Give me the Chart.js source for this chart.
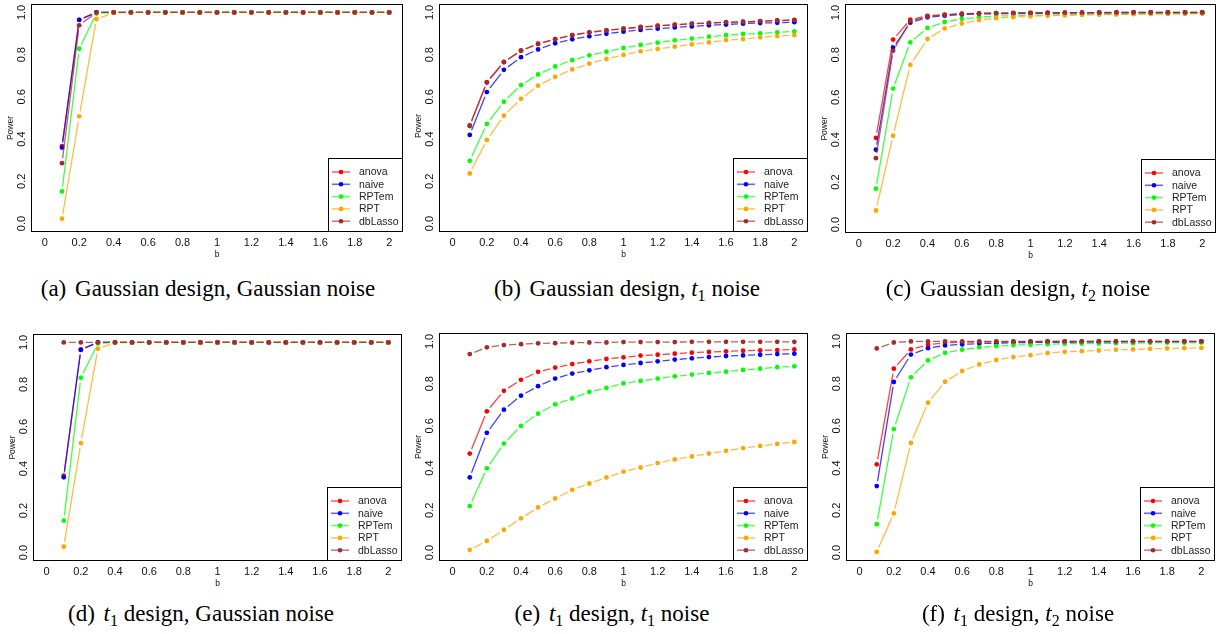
<!DOCTYPE html>
<html>
<head>
<meta charset="utf-8">
<script src="https://cdn.jsdelivr.net/npm/chart.js@4/dist/chart.umd.min.js"></script>
<style>
  body { margin: 0; background: #fff; width: 1225px; height: 634px; position: relative; overflow: hidden; }
  canvas.panel { position: absolute; }
  .cap { position: absolute; width: 440px; text-align: center; font-family: "Liberation Serif", "Times New Roman", serif;
         font-size: 23px; line-height: 26px; color: #000; white-space: nowrap; }
  .cap .lab { margin-right: 3px; }
  .cap sub { font-size: 70%; vertical-align: -0.3em; line-height: 0; }
</style>
</head>
<body>
<script>
/* Power curves for six design / noise settings */

const bValues = [0.1, 0.2, 0.3, 0.4, 0.5, 0.6, 0.7, 0.8, 0.9, 1.0, 1.1, 1.2, 1.3, 1.4, 1.5, 1.6, 1.7, 1.8, 1.9, 2.0];
const xTicks = [0, 0.2, 0.4, 0.6, 0.8, 1, 1.2, 1.4, 1.6, 1.8, 2];
const yTicks = [0, 0.2, 0.4, 0.6, 0.8, 1];
const seriesNames = ["anova", "naive", "RPTem", "RPT", "dbLasso"];
const seriesColors = ["#ff0000", "#0000ff", "#00ff00", "#ffa500", "#a52a2a"];

// (a) Gaussian design, Gaussian noise
const aAnova   = [0.367, 0.965, 1, 1, 1, 1, 1, 1, 1, 1, 1, 1, 1, 1, 1, 1, 1, 1, 1, 1];
const aNaive   = [0.360, 0.965, 1, 1, 1, 1, 1, 1, 1, 1, 1, 1, 1, 1, 1, 1, 1, 1, 1, 1];
const aRPTem   = [0.152, 0.828, 0.995, 1, 1, 1, 1, 1, 1, 1, 1, 1, 1, 1, 1, 1, 1, 1, 1, 1];
const aRPT     = [0.023, 0.508, 0.969, 0.998, 1, 1, 1, 1, 1, 1, 1, 1, 1, 1, 1, 1, 1, 1, 1, 1];
const aDbLasso = [0.286, 0.939, 1, 1, 1, 1, 1, 1, 1, 1, 1, 1, 1, 1, 1, 1, 1, 1, 1, 1];

// (b) Gaussian design, t1 noise
const bAnova   = [0.465, 0.670, 0.766, 0.820, 0.852, 0.874, 0.893, 0.906, 0.915, 0.923, 0.930, 0.936, 0.941, 0.946, 0.949, 0.953, 0.955, 0.958, 0.961, 0.963];
const bNaive   = [0.420, 0.623, 0.728, 0.788, 0.825, 0.854, 0.873, 0.887, 0.899, 0.909, 0.917, 0.923, 0.929, 0.934, 0.939, 0.943, 0.947, 0.950, 0.951, 0.954];
const bRPTem   = [0.297, 0.472, 0.577, 0.656, 0.706, 0.744, 0.774, 0.797, 0.814, 0.832, 0.846, 0.857, 0.868, 0.876, 0.885, 0.892, 0.898, 0.901, 0.906, 0.910];
const bRPT     = [0.237, 0.396, 0.511, 0.591, 0.653, 0.695, 0.730, 0.758, 0.780, 0.799, 0.816, 0.827, 0.838, 0.849, 0.858, 0.869, 0.874, 0.882, 0.888, 0.893];
const bDbLasso = [0.462, 0.668, 0.764, 0.818, 0.851, 0.873, 0.892, 0.906, 0.915, 0.923, 0.931, 0.937, 0.942, 0.947, 0.950, 0.954, 0.956, 0.959, 0.962, 0.965];

// (c) Gaussian design, t2 noise
const cAnova   = [0.409, 0.872, 0.966, 0.984, 0.990, 0.994, 0.996, 0.997, 0.998, 0.998, 0.999, 0.999, 0.999, 1, 1, 1, 1, 1, 1, 1];
const cNaive   = [0.353, 0.834, 0.952, 0.977, 0.985, 0.990, 0.993, 0.994, 0.995, 0.996, 0.997, 0.997, 0.998, 0.998, 0.998, 0.999, 0.999, 0.999, 0.999, 0.999];
const cRPTem   = [0.169, 0.641, 0.859, 0.927, 0.955, 0.970, 0.977, 0.983, 0.985, 0.987, 0.988, 0.989, 0.990, 0.991, 0.992, 0.993, 0.993, 0.994, 0.994, 0.995];
const cRPT     = [0.066, 0.419, 0.753, 0.875, 0.925, 0.948, 0.964, 0.973, 0.978, 0.982, 0.985, 0.987, 0.989, 0.990, 0.991, 0.992, 0.993, 0.994, 0.995, 0.996];
const cDbLasso = [0.313, 0.820, 0.959, 0.981, 0.988, 0.993, 0.995, 0.997, 0.997, 0.998, 0.998, 0.999, 0.999, 0.999, 1, 1, 1, 1, 1, 1];

// (d) t1 design, Gaussian noise
const dAnova   = [0.366, 0.967, 1, 1, 1, 1, 1, 1, 1, 1, 1, 1, 1, 1, 1, 1, 1, 1, 1, 1];
const dNaive   = [0.358, 0.964, 1, 1, 1, 1, 1, 1, 1, 1, 1, 1, 1, 1, 1, 1, 1, 1, 1, 1];
const dRPTem   = [0.152, 0.832, 0.995, 1, 1, 1, 1, 1, 1, 1, 1, 1, 1, 1, 1, 1, 1, 1, 1, 1];
const dRPT     = [0.028, 0.521, 0.970, 0.998, 1, 1, 1, 1, 1, 1, 1, 1, 1, 1, 1, 1, 1, 1, 1, 1];
const dDbLasso = [1, 1, 1, 1, 1, 1, 1, 1, 1, 1, 1, 1, 1, 1, 1, 1, 1, 1, 1, 1];

// (e) t1 design, t1 noise
const eAnova   = [0.469, 0.669, 0.766, 0.818, 0.856, 0.876, 0.893, 0.906, 0.917, 0.925, 0.933, 0.937, 0.942, 0.947, 0.950, 0.953, 0.956, 0.958, 0.959, 0.962];
const eNaive   = [0.356, 0.567, 0.677, 0.743, 0.788, 0.824, 0.848, 0.863, 0.878, 0.889, 0.898, 0.906, 0.914, 0.920, 0.926, 0.931, 0.934, 0.937, 0.940, 0.942];
const eRPTem   = [0.220, 0.399, 0.516, 0.600, 0.658, 0.702, 0.730, 0.761, 0.780, 0.801, 0.813, 0.824, 0.835, 0.843, 0.851, 0.857, 0.865, 0.871, 0.878, 0.882];
const eRPT     = [0.013, 0.055, 0.108, 0.162, 0.214, 0.256, 0.297, 0.327, 0.356, 0.383, 0.403, 0.424, 0.441, 0.455, 0.469, 0.482, 0.495, 0.505, 0.515, 0.524];
const eDbLasso = [0.940, 0.972, 0.983, 0.987, 0.991, 0.992, 0.994, 0.995, 0.995, 0.997, 0.997, 0.997, 0.997, 0.998, 0.998, 0.998, 0.998, 0.998, 0.998, 0.998];

// (f) t1 design, t2 noise
const fAnova   = [0.418, 0.871, 0.962, 0.984, 0.994, 0.996, 0.998, 0.998, 0.999, 0.999, 1, 1, 1, 1, 1, 1, 1, 1, 1, 1];
const fNaive   = [0.315, 0.808, 0.938, 0.968, 0.981, 0.986, 0.990, 0.992, 0.994, 0.995, 0.996, 0.996, 0.997, 0.997, 0.997, 0.998, 0.998, 0.998, 0.998, 0.998];
const fRPTem   = [0.134, 0.585, 0.830, 0.910, 0.946, 0.961, 0.972, 0.978, 0.983, 0.984, 0.987, 0.989, 0.990, 0.990, 0.992, 0.992, 0.994, 0.994, 0.994, 0.995];
const fRPT     = [0.003, 0.186, 0.519, 0.710, 0.809, 0.860, 0.891, 0.912, 0.926, 0.935, 0.945, 0.951, 0.954, 0.957, 0.961, 0.962, 0.965, 0.967, 0.968, 0.970];
const fDbLasso = [0.967, 0.995, 1, 1, 1, 1, 1, 1, 1, 1, 1, 1, 1, 1, 1, 1, 1, 1, 1, 1];

// page layout: plot frame box per panel, caption centre
const panels = [
  { label: "(a)", caption: "Gaussian design, Gaussian noise", series: [aAnova, aNaive, aRPTem, aRPT, aDbLasso],
    frame: { l: 31, t: 3, r: 403, b: 232 }, capX: 208, capY: 289, powerDy: 10 },
  { label: "(b)", caption: "Gaussian design, <i>t</i><sub>1</sub> noise", series: [bAnova, bNaive, bRPTem, bRPT, bDbLasso],
    frame: { l: 439, t: 3, r: 808, b: 232 }, capX: 627, capY: 289, powerDy: 8 },
  { label: "(c)", caption: "Gaussian design, <i>t</i><sub>2</sub> noise", series: [cAnova, cNaive, cRPTem, cRPT, cDbLasso],
    frame: { l: 845, t: 3, r: 1216, b: 233 }, capX: 1018, capY: 289, powerDy: 10 },
  { label: "(d)", caption: "<i>t</i><sub>1</sub> design, Gaussian noise", series: [dAnova, dNaive, dRPTem, dRPT, dDbLasso],
    frame: { l: 33, t: 334, r: 402, b: 561 }, capX: 201, capY: 614, powerDy: 0 },
  { label: "(e)", caption: "<i>t</i><sub>1</sub> design, <i>t</i><sub>1</sub> noise", series: [eAnova, eNaive, eRPTem, eRPT, eDbLasso],
    frame: { l: 439, t: 333, r: 808, b: 561 }, capX: 612, capY: 614, powerDy: 0 },
  { label: "(f)", caption: "<i>t</i><sub>1</sub> design, <i>t</i><sub>2</sub> noise", series: [fAnova, fNaive, fRPTem, fRPT, fDbLasso],
    frame: { l: 846, t: 333, r: 1215, b: 561 }, capX: 1018, capY: 614, powerDy: 0 },
];

const SANS = '"Liberation Sans", Arial, sans-serif';
const GAP = 5;          // gap around points, like R's type = "b"
const LINE_ALPHA = 0.75;

function rgba(hex, a) {
  const n = parseInt(hex.slice(1), 16);
  return `rgba(${(n >> 16) & 255},${(n >> 8) & 255},${n & 255},${a})`;
}

// each segment stops short of both points
function gapDash(ctx) {
  const L = Math.hypot(ctx.p1.x - ctx.p0.x, ctx.p1.y - ctx.p0.y);
  if (L <= 2 * GAP) return [0, +(L + 0.01).toFixed(2)];
  return [0, GAP, +(L - 2 * GAP).toFixed(2), GAP];
}

const decorPlugin = {
  id: "decor",
  afterDraw(chart) {
    const { ctx, chartArea: a, scales } = chart;
    const opts = chart.options.plugins.decor;
    const ys = scales.y;
    ctx.save();

    // frame
    ctx.strokeStyle = "#000";
    ctx.lineWidth = 1;
    ctx.strokeRect(a.left + 0.5, a.top + 0.5, a.right - a.left - 1, a.bottom - a.top - 1);

    // rotated y tick labels
    ctx.fillStyle = "#111";
    ctx.font = `11px ${SANS}`;
    ctx.textAlign = "center";
    ctx.textBaseline = "middle";
    yTicks.forEach((v) => {
      ctx.save();
      ctx.translate(a.left - 9.5, ys.getPixelForValue(v));
      ctx.rotate(-Math.PI / 2);
      ctx.fillText(v.toFixed(1), 0, 0);
      ctx.restore();
    });

    // axis titles
    ctx.font = `8.5px ${SANS}`;
    ctx.save();
    ctx.translate(a.left - 20, (a.top + a.bottom) / 2 + opts.powerDy);
    ctx.rotate(-Math.PI / 2);
    ctx.fillText("Power", 0, 0);
    ctx.restore();
    ctx.fillText("b", (a.left + a.right) / 2, a.bottom + 23);

    // legend, bottom right
    const bw = 75, bh = 74;
    ctx.fillStyle = "#fff";
    ctx.fillRect(a.right - bw, a.bottom - bh, bw, bh);
    ctx.strokeStyle = "#000";
    ctx.strokeRect(a.right - bw + 0.5, a.bottom - bh + 0.5, bw - 1, bh - 1);
    ctx.font = `10.5px ${SANS}`;
    ctx.textAlign = "left";
    seriesNames.forEach((name, i) => {
      const yy = a.bottom - 60 + i * 12.3;
      ctx.strokeStyle = rgba(seriesColors[i], 0.6);
      ctx.lineWidth = 1.6;
      ctx.beginPath();
      ctx.moveTo(a.right - 71, yy);
      ctx.lineTo(a.right - 53, yy);
      ctx.stroke();
      ctx.fillStyle = seriesColors[i];
      ctx.beginPath();
      ctx.arc(a.right - 62, yy, 2.3, 0, Math.PI * 2);
      ctx.fill();
      ctx.fillStyle = "#222";
      ctx.fillText(name, a.right - 44, yy + 0.5);
    });
    ctx.restore();
  },
};

panels.forEach((p) => {
  const f = p.frame;
  const x0 = f.l - 36, y0 = Math.max(0, f.t - 4);
  const w = f.r + 6 - x0, h = f.b + 30 - y0;

  const canvas = document.createElement("canvas");
  canvas.className = "panel";
  canvas.width = w;
  canvas.height = h;
  canvas.style.left = x0 + "px";
  canvas.style.top = y0 + "px";
  document.body.appendChild(canvas);

  const datasets = p.series.map((vals, i) => ({
    label: seriesNames[i],
    data: bValues.map((b, k) => ({ x: b, y: vals[k] })),
    borderColor: rgba(seriesColors[i], LINE_ALPHA),
    borderWidth: 1.3,
    pointRadius: 2.4,
    pointBorderWidth: 0,
    pointBackgroundColor: seriesColors[i],
    pointBorderColor: seriesColors[i],
    tension: 0,
    order: seriesNames.length - i,
    segment: { borderDash: gapDash },
  }));

  new Chart(canvas, {
    type: "line",
    data: { datasets },
    options: {
      responsive: false,
      animation: false,
      events: [],
      layout: { padding: { top: f.t - y0, right: x0 + w - f.r, left: 0, bottom: 0 } },
      scales: {
        x: {
          type: "linear",
          min: -0.08,
          max: 2.08,
          afterBuildTicks: (s) => { s.ticks = xTicks.map((v) => ({ value: v })); },
          afterFit: (s) => { s.height = y0 + h - f.b; },
          ticks: {
            padding: 4,
            color: "#111",
            font: { family: SANS, size: 11 },
            maxRotation: 0,
            autoSkip: false,
            callback: (v) => String(Math.round(v * 10) / 10),
          },
          grid: { display: false, drawTicks: false },
          border: { display: false },
        },
        y: {
          type: "linear",
          min: -0.04,
          max: 1.04,
          afterBuildTicks: (s) => { s.ticks = yTicks.map((v) => ({ value: v })); },
          afterFit: (s) => { s.width = f.l - x0; },
          ticks: { display: false },
          grid: { display: false, drawTicks: false },
          border: { display: false },
        },
      },
      plugins: {
        legend: { display: false },
        tooltip: { enabled: false },
        decor: { powerDy: p.powerDy },
      },
    },
    plugins: [decorPlugin],
  });

  const cap = document.createElement("div");
  cap.className = "cap";
  cap.style.left = p.capX - 220 + "px";
  cap.style.top = p.capY - 13 + "px";
  cap.innerHTML = `<span class="lab">${p.label}</span> ${p.caption}`;
  document.body.appendChild(cap);
});
</script>
</body>
</html>
